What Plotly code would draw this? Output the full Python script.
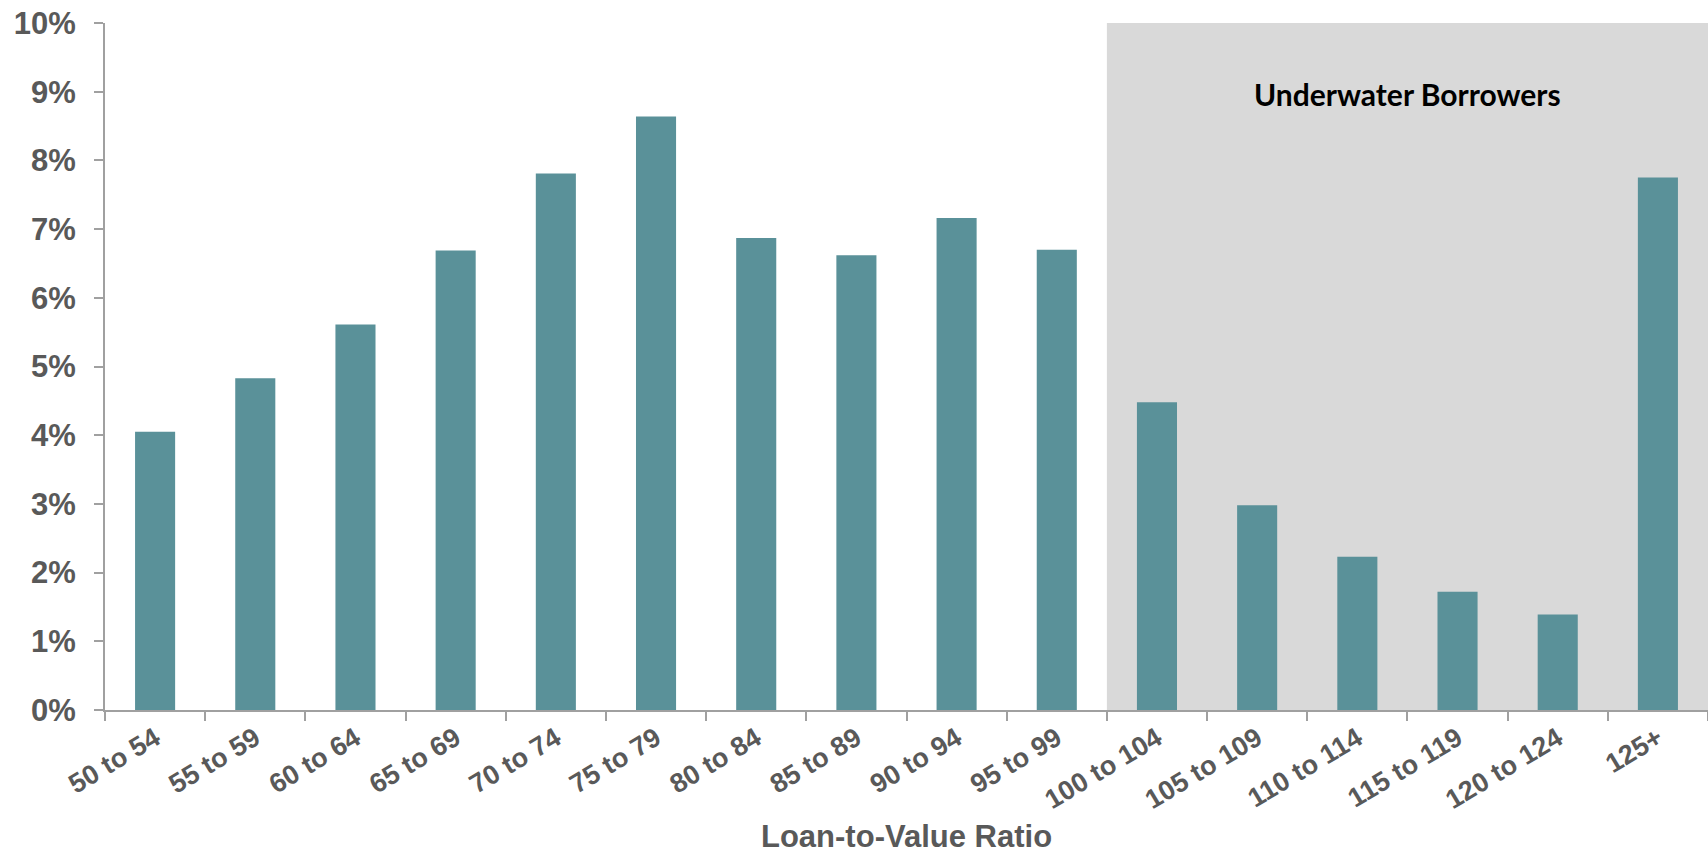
import plotly.graph_objects as go

# Share of borrowers by loan-to-value bucket
ltv_buckets = ["50 to 54", "55 to 59", "60 to 64", "65 to 69", "70 to 74", "75 to 79",
               "80 to 84", "85 to 89", "90 to 94", "95 to 99", "100 to 104", "105 to 109",
               "110 to 114", "115 to 119", "120 to 124", "125+"]
share_pct = [4.05, 4.83, 5.61, 6.69, 7.81, 8.64, 6.87, 6.62, 7.16, 6.70,
             4.48, 2.98, 2.23, 1.72, 1.39, 7.75]
y_ticks = [0, 1, 2, 3, 4, 5, 6, 7, 8, 9, 10]
y_tick_labels = [f"{v}%" for v in y_ticks]

BAR = "#5A9199"
SHADE = "#D9D9D9"
AXIS = "#A0A0A0"
TEXT = "#595959"

fig = go.Figure()
fig.add_trace(go.Bar(
    x=ltv_buckets,
    y=share_pct,
    marker=dict(color=BAR, line=dict(width=0)),
    width=0.4,
    hoverinfo="skip",
))

# Shaded region for LTV >= 100
fig.add_shape(type="rect", xref="x", yref="y", x0=9.5, x1=15.6, y0=0, y1=10.02,
              fillcolor=SHADE, line=dict(width=0), layer="below")
fig.add_annotation(x=12.5, y=8.96, xref="x", yref="y", text="Underwater Borrowers",
                   showarrow=False,
                   font=dict(family="Lato", size=30, color="#000000", weight=700))

# X-axis title placed below the rotated tick labels
fig.add_annotation(x=0.5, y=-0.184, xref="paper", yref="paper", text="Loan-to-Value Ratio",
                   showarrow=False, xanchor="center", yanchor="middle",
                   font=dict(family="Liberation Sans", size=31, color=TEXT, weight=700))

fig.update_layout(
    width=1708, height=857,
    margin=dict(l=105, r=0, t=23, b=147),
    plot_bgcolor="white", paper_bgcolor="white",
    showlegend=False,
    font=dict(family="Liberation Sans", color=TEXT),
)
fig.update_xaxes(
    type="category",
    categoryorder="array", categoryarray=ltv_buckets,
    range=[-0.5, 15.5],
    automargin=False,
    tickangle=-31,
    showline=True, linecolor=AXIS, linewidth=2,
    ticks="outside", ticklen=9, tickcolor=AXIS, tickwidth=2,
    tickson="boundaries",
    showgrid=False, zeroline=False,
    tickfont=dict(family="Liberation Sans", size=27, color=TEXT, weight=700),
)
fig.update_yaxes(
    range=[0, 10],
    automargin=False,
    tickmode="array", tickvals=y_ticks, ticktext=y_tick_labels,
    showline=True, linecolor=AXIS, linewidth=2,
    ticks="outside", ticklen=9, tickcolor=AXIS, tickwidth=2,
    showgrid=False, zeroline=False,
    ticklabelstandoff=12,
    tickfont=dict(family="Liberation Sans", size=31, color=TEXT, weight=700),
)

fig.write_html("out.html")
